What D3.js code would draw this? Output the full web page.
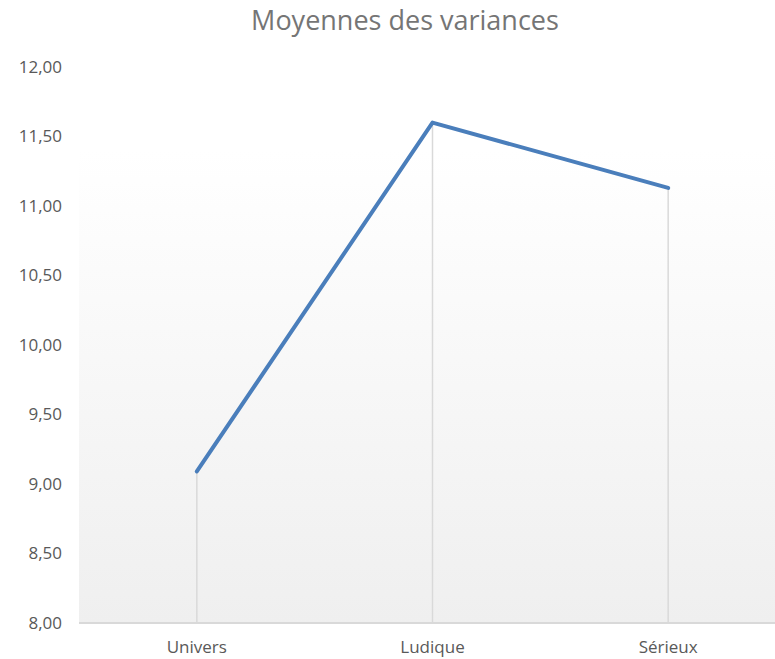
<!DOCTYPE html>
<html>
<head>
<meta charset="utf-8">
<script src="https://cdn.jsdelivr.net/npm/d3@7"></script>
<style>
  body { margin: 0; background: #fff; }
  svg text { font-family: "Open Sans", sans-serif; }
</style>
</head>
<body>
<svg id="Vis" width="775" height="659"></svg>
<script>
/*
* DATA
*/
const categories = ["Univers", "Ludique", "Sérieux"];
const values = [9.09, 11.60, 11.13];
const yTicks = [8, 8.5, 9, 9.5, 10, 10.5, 11, 11.5, 12];
const chartTitle = "Moyennes des variances";

/*
* SETUP
*/
const svg = d3.select("svg#Vis");
const plot = { left: 79, right: 786, top: 67, bottom: 623 };

const x = d3.scalePoint()
  .domain(categories)
  .range([plot.left, plot.right])
  .padding(0.5);

const y = d3.scaleLinear()
  .domain([8, 12])
  .range([plot.bottom, plot.top]);

/* Background gradient */
const grad = svg.append("defs").append("linearGradient")
  .attr("id", "bg")
  .attr("x1", 0).attr("y1", 0).attr("x2", 0).attr("y2", 1);
grad.append("stop").attr("offset", "0%").attr("stop-color", "#ffffff");
grad.append("stop").attr("offset", "15%").attr("stop-color", "#ffffff");
grad.append("stop").attr("offset", "100%").attr("stop-color", "#efefef");

svg.append("rect")
  .attr("x", plot.left)
  .attr("y", plot.top)
  .attr("width", plot.right - plot.left)
  .attr("height", plot.bottom - plot.top)
  .attr("fill", "url(#bg)");

/* Title */
svg.append("text")
  .attr("x", 405)
  .attr("y", 30)
  .attr("text-anchor", "middle")
  .attr("font-size", 27)
  .attr("fill", "#757575")
  .text(chartTitle);

/* Y axis labels */
const fmt = d => d3.format(".2f")(d).replace(".", ",");
svg.append("g").selectAll("text")
  .data(yTicks)
  .join("text")
    .attr("x", 62)
    .attr("y", d => y(d))
    .attr("dy", "0.35em")
    .attr("text-anchor", "end")
    .attr("font-size", 17)
    .attr("fill", "#595959")
    .text(fmt);

/* Drop lines */
svg.append("g").selectAll("line")
  .data(categories)
  .join("line")
    .attr("x1", d => x(d))
    .attr("x2", d => x(d))
    .attr("y1", (d, i) => y(values[i]))
    .attr("y2", plot.bottom)
    .attr("stroke", "#d9d9d9")
    .attr("stroke-width", 1.5);

/* X axis line */
svg.append("line")
  .attr("x1", plot.left)
  .attr("x2", plot.right)
  .attr("y1", plot.bottom)
  .attr("y2", plot.bottom)
  .attr("stroke", "#d9d9d9")
  .attr("stroke-width", 2);

/* X labels */
svg.append("g").selectAll("text")
  .data(categories)
  .join("text")
    .attr("x", d => x(d))
    .attr("y", 653)
    .attr("text-anchor", "middle")
    .attr("font-size", 17)
    .attr("fill", "#595959")
    .text(d => d);

/* Line */
const line = d3.line()
  .x((d, i) => x(categories[i]))
  .y(d => y(d));

svg.append("path")
  .datum(values)
  .attr("d", line)
  .attr("fill", "none")
  .attr("stroke", "#4a7ebb")
  .attr("stroke-width", 4)
  .attr("stroke-linejoin", "round")
  .attr("stroke-linecap", "round");
</script>
</body>
</html>
